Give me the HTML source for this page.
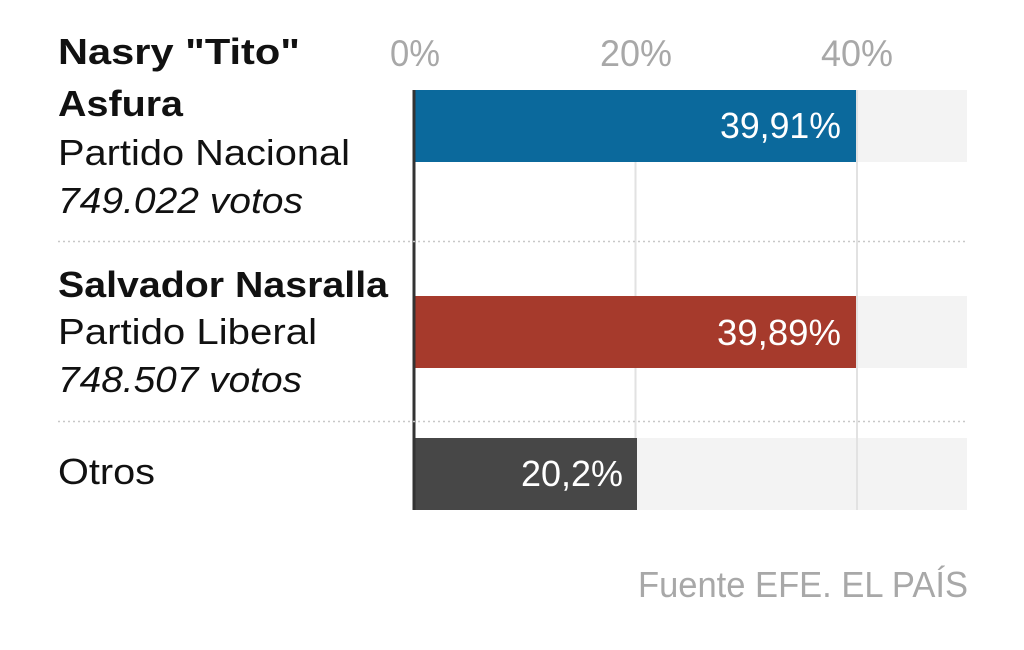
<!DOCTYPE html>
<html><head><meta charset="utf-8"><style>
html,body{margin:0;padding:0;background:#fff;}
svg{display:block;font-family:"Liberation Sans",sans-serif;}
</style></head><body>
<svg width="1024" height="650" viewBox="0 0 1024 650" xmlns="http://www.w3.org/2000/svg">
<rect width="1024" height="650" fill="#fff"/>
<rect x="414" y="90" width="553" height="72" fill="#f3f3f3"/>
<rect x="414" y="296" width="553" height="72" fill="#f3f3f3"/>
<rect x="414" y="438" width="553" height="72" fill="#f3f3f3"/>
<line x1="635.5" y1="90" x2="635.5" y2="510" stroke="#e2e2e2" stroke-width="2"/>
<line x1="857" y1="90" x2="857" y2="510" stroke="#e2e2e2" stroke-width="2"/>
<rect x="414" y="90" width="442" height="72" fill="#0b699c"/>
<rect x="414" y="296" width="442" height="72" fill="#a63a2c"/>
<rect x="414" y="438" width="223" height="72" fill="#474747"/>
<line x1="414" y1="90" x2="414" y2="510" stroke="#333" stroke-width="3"/>
<line x1="58" y1="241.5" x2="967" y2="241.5" stroke="#c8c8c8" stroke-width="1.5" stroke-dasharray="2,3"/>
<line x1="58" y1="421.5" x2="967" y2="421.5" stroke="#c8c8c8" stroke-width="1.5" stroke-dasharray="2,3"/>
<g fill="#a8a8a8" font-size="37">
<text x="390" y="66" textLength="50" lengthAdjust="spacingAndGlyphs">0%</text>
<text x="600" y="66" textLength="72" lengthAdjust="spacingAndGlyphs">20%</text>
<text x="821" y="66" textLength="72" lengthAdjust="spacingAndGlyphs">40%</text>
</g>
<g fill="#111" font-size="36">
<text x="58" y="64" font-weight="bold" textLength="242" lengthAdjust="spacingAndGlyphs">Nasry "Tito"</text>
<text x="58" y="116" font-weight="bold" textLength="125" lengthAdjust="spacingAndGlyphs">Asfura</text>
<text x="58" y="165" textLength="292" lengthAdjust="spacingAndGlyphs">Partido Nacional</text>
<text x="58" y="213" font-style="italic" textLength="245" lengthAdjust="spacingAndGlyphs">749.022 votos</text>
<text x="58" y="297" font-weight="bold" textLength="330" lengthAdjust="spacingAndGlyphs">Salvador Nasralla</text>
<text x="58" y="344" textLength="259" lengthAdjust="spacingAndGlyphs">Partido Liberal</text>
<text x="58" y="392" font-style="italic" textLength="244" lengthAdjust="spacingAndGlyphs">748.507 votos</text>
<text x="58" y="484" textLength="97" lengthAdjust="spacingAndGlyphs">Otros</text>
</g>
<g fill="#fff" font-size="36">
<text x="720" y="138" textLength="121" lengthAdjust="spacingAndGlyphs">39,91%</text>
<text x="717" y="345" textLength="124" lengthAdjust="spacingAndGlyphs">39,89%</text>
<text x="521" y="486" textLength="102" lengthAdjust="spacingAndGlyphs">20,2%</text>
</g>
<text x="638" y="597" fill="#a8a8a8" font-size="36" textLength="330" lengthAdjust="spacingAndGlyphs">Fuente EFE. EL PAÍS</text>
</svg>
</body></html>
